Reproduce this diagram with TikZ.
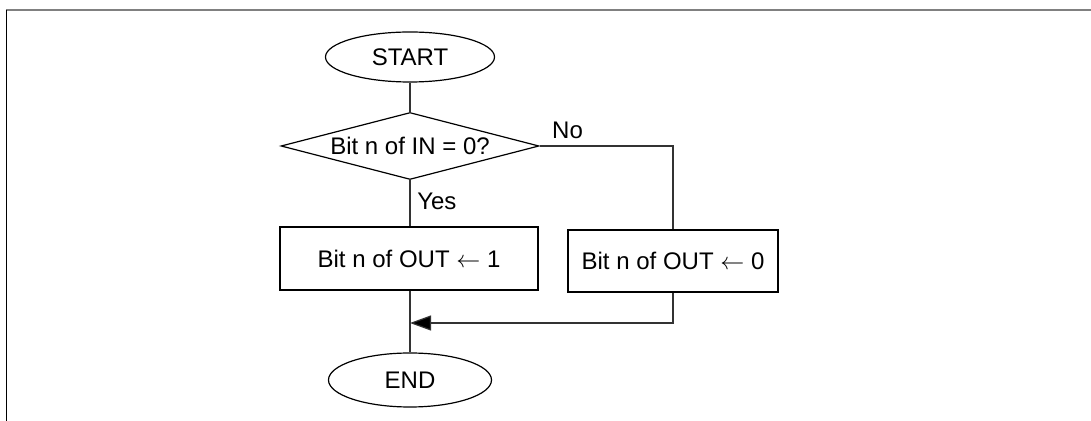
\documentclass[tikz,border=0pt]{standalone}
\usepackage{fontspec}
\setmainfont{Liberation Sans}
\usepackage{tikz}
\usetikzlibrary{arrows.meta,shapes.geometric}

\tikzset{
	txt/.style = {font=\fontsize{12}{14}\selectfont},
	terminal/.style = {txt, draw, ellipse, inner sep=0pt, line width=0.6pt},
	decision/.style = {txt, draw, diamond, aspect=3.85, inner sep=0pt, line width=0.6pt, minimum width=129pt, minimum height=33.5pt},
	process/.style = {txt, draw, rectangle, inner sep=0pt, line width=0.6pt, minimum height=31.5pt},
	flow/.style = {line width=0.6pt, draw=black!80}
}

\begin{document}
\begin{tikzpicture}[x=0.5pt, y=-0.5pt]
		\useasboundingbox (0,0) rectangle (1091,421);
		% frame
		\draw[gray, line width=1pt] (6,10) -- (1091,10);
		\draw[line width=0.7pt] (6.5,10) -- (6.5,421);
		
		\node[terminal, minimum width=84.5pt, minimum height=25pt] (start) at (410,57) {START};
		\node[decision] (test) at (410,146) {Bit n of IN = 0?};
		\node[process, minimum width=129pt] (setone) at (409,258.5) {Bit n of OUT $\leftarrow$ 1};
		\node[process, minimum width=105pt, minimum height=31pt] (setzero) at (673,261) {Bit n of OUT $\leftarrow$ 0};
		\node[terminal, minimum width=81.5pt, minimum height=27pt] (end) at (410,380) {END};
		\coordinate (join) at (410,323);
		
		\draw[flow] (start.south) -- (test.north);
		\draw[flow] (test.south) -- node[txt, right, pos=0.45] {Yes} (test.south |- setone.north);
		\draw[flow] (test.south |- setone.south) -- (end.north);
		\draw[flow] (test.east) -| node[txt, above right, pos=0.02] {No} (setzero.north);
		\draw[flow, -{Triangle[length=10.5pt, width=7.5pt, fill=black]}] (setzero.south) |- (join);
		\end{tikzpicture}
\end{document}
